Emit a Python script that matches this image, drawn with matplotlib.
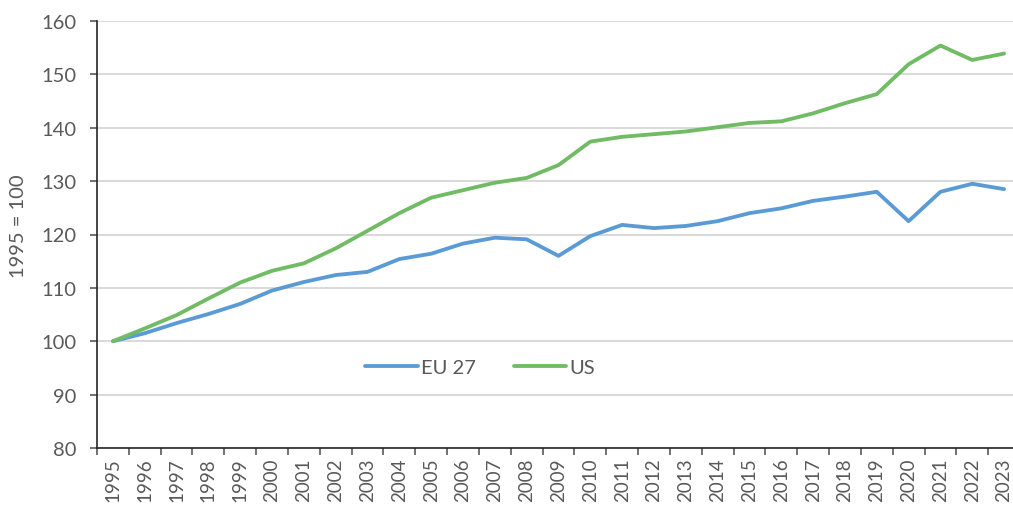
import matplotlib
matplotlib.use("Agg")
import matplotlib.pyplot as plt
import numpy as np

years = [str(y) for y in range(1995, 2024)]
eu27 = [100.0, 101.5, 103.4, 105.1, 107.0, 109.5, 111.1, 112.4, 113.0, 115.4,
        116.4, 118.3, 119.4, 119.1, 116.0, 119.7, 121.8, 121.2, 121.6, 122.5,
        124.0, 124.9, 126.3, 127.1, 128.0, 122.5, 128.0, 129.5, 128.5]
us = [100.0, 102.4, 104.9, 108.0, 111.0, 113.2, 114.6, 117.4, 120.7, 124.0,
      126.9, 128.3, 129.7, 130.6, 133.0, 137.4, 138.3, 138.8, 139.3, 140.1,
      140.9, 141.2, 142.7, 144.6, 146.3, 151.9, 155.4, 152.7, 153.9]
yticks = [80, 90, 100, 110, 120, 130, 140, 150, 160]
ylabel = "1995 = 100"

plt.rcParams['font.family'] = ['Lato', 'DejaVu Sans']
FS = 14.5
TXT = "#595959"
W, H = 1013, 506
fig = plt.figure(figsize=(W / 100, H / 100), dpi=100)
ax = fig.add_axes([97 / W, 1 - 449 / H, (1020 - 97) / W, (449 - 22) / H])

x = np.arange(len(years))
ax.plot(x, eu27, color="#5B9BD5", lw=2.75, label="EU 27", solid_capstyle="round")
ax.plot(x, us, color="#70BB64", lw=2.75, label="US", solid_capstyle="round")

ax.set_xlim(-0.5, len(years) - 0.5)
ax.set_ylim(80, 160)
ax.set_yticks(yticks)
ax.yaxis.grid(True, color="#D9D9D9", lw=1.4)
ax.set_axisbelow(True)

ax.set_xticks(np.arange(-0.5, len(years), 1.0))
ax.set_xticklabels([])
ax.set_xticks(x, minor=True)
ax.set_xticklabels(years, minor=True, rotation=90, fontsize=13.5, color=TXT)
ax.tick_params(axis='x', which='minor', length=0, pad=7)
ax.tick_params(axis='x', which='major', length=5, width=1.2, color="#595959")
ax.tick_params(axis='y', length=5, width=1.2, color="#595959", labelsize=FS,
               labelcolor=TXT, pad=10)

for s in ['top', 'right']:
    ax.spines[s].set_visible(False)
for s in ['left', 'bottom']:
    ax.spines[s].set_color("#262626")
    ax.spines[s].set_linewidth(1.2)

fig.text(19 / W, 1 - 226 / H, ylabel, rotation=90, ha='center', va='center',
         fontsize=FS, color=TXT)

leg = ax.legend(loc='center', bbox_to_anchor=((480 - 97) / (1020 - 97), 1 - (368 - 22) / (449 - 22)),
                ncol=2, frameon=False, fontsize=FS, handlelength=2.6,
                handletextpad=0.15, columnspacing=1.9)
for t in leg.get_texts():
    t.set_color(TXT)

fig.savefig("out.png", dpi=100)
